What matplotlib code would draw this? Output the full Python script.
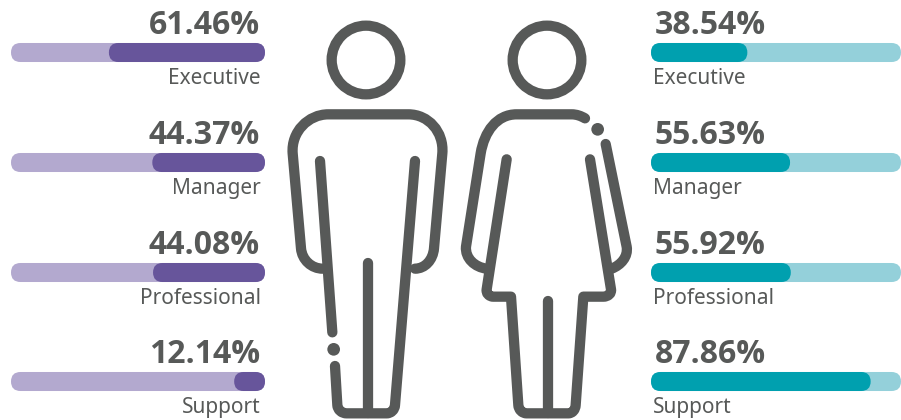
import matplotlib
matplotlib.use("Agg")
import matplotlib.pyplot as plt
from matplotlib.patches import FancyBboxPatch, PathPatch, Circle
from matplotlib.path import Path

categories = ["Executive", "Manager", "Professional", "Support"]
male_pct = [61.46, 44.37, 44.08, 12.14]
female_pct = [38.54, 55.63, 55.92, 87.86]

DARK = "#575958"
PURPLE = "#67559B"
PURPLE_L = "#B3A9CF"
TEAL = "#00A0AF"
TEAL_L = "#94D0DA"
FONT = "Noto Sans"
BOLD_FONT = "Open Sans"

fig = plt.figure(figsize=(9.01, 4.20), dpi=100)
ax = fig.add_axes([0, 0, 1, 1])
ax.set_xlim(0, 901)
ax.set_ylim(420, 0)
ax.axis("off")

ROW_TOP = [43, 153, 263, 372]
BAR_H = 19
L_X0, L_X1 = 11, 265
R_X0, R_X1 = 651, 901


def bar(x0, x1, y, color, z):
    r = BAR_H / 2
    p = FancyBboxPatch((x0 + r, y + r - 0.01), max(x1 - x0 - 2 * r, 0.01), 0.02,
                       boxstyle=f"round,pad={r},rounding_size={r}", lw=0, fc=color, zorder=z)
    ax.add_patch(p)


for i, cat in enumerate(categories):
    y = ROW_TOP[i]
    bar(L_X0, L_X1, y, PURPLE_L, 2)
    bar(L_X1 - male_pct[i] / 100 * (L_X1 - L_X0), L_X1, y, PURPLE, 3)
    ax.text(260, y - 9, f"{male_pct[i]:.2f}%", ha="right", va="baseline", fontsize=23,
            family=BOLD_FONT, fontweight="bold", color=DARK)
    ax.text(261, y + 41, cat, ha="right", va="baseline", fontsize=15, color=DARK, family=FONT)
    bar(R_X0, R_X1, y, TEAL_L, 2)
    bar(R_X0, R_X0 + female_pct[i] / 100 * (R_X1 - R_X0), y, TEAL, 3)
    ax.text(655, y - 9, f"{female_pct[i]:.2f}%", ha="left", va="baseline", fontsize=23,
            family=BOLD_FONT, fontweight="bold", color=DARK)
    ax.text(653, y + 41, cat, ha="left", va="baseline", fontsize=15, color=DARK, family=FONT)

LW = 7.4
M = Path.MOVETO; L = Path.LINETO; C = Path.CURVE4


def stroke(ox, items):
    verts, codes = [], []
    for code, pt in items:
        verts.append((ox + pt[0] / 3, pt[1] / 3))
        codes.append(code)
    ax.add_patch(PathPatch(Path(verts, codes), fc="none", ec=DARK, lw=LW,
                           capstyle="round", joinstyle="round", zorder=4))


def dot(ox, x, y, r):
    ax.add_patch(Circle((ox + x / 3, y / 3), r / 3, fc=DARK, ec="none", zorder=4))


def head(ox, x):
    ax.add_patch(Circle((ox + x / 3, 60), 103 / 3, fc="none", ec=DARK, lw=LW, zorder=4))


OX = 280
head(OX, 258)
stroke(OX, [(M, (128, 806)), (C, (95, 806)), (C, (66, 780)), (C, (63, 745)), (L, (38, 460)),
            (C, (33, 395)), (C, (85, 343)), (C, (145, 343)), (L, (385, 343)),
            (C, (445, 343)), (C, (492, 395)), (C, (487, 460)), (L, (462, 745)),
            (C, (459, 780)), (C, (435, 806)), (C, (405, 806))])
stroke(OX, [(M, (120, 483)), (L, (157, 997))])
dot(OX, 161, 1048, 19)
stroke(OX, [(M, (165, 1098)), (L, (172, 1215)), (C, (173, 1230)), (C, (185, 1240)), (C, (200, 1240)),
            (L, (320, 1240)), (C, (333, 1240)), (C, (344, 1230)), (C, (345, 1215)), (L, (405, 483))])
stroke(OX, [(M, (263, 788)), (L, (263, 1240))])

OX = 455
head(OX, 276)
stroke(OX, [(M, (390, 355)), (C, (378, 348)), (C, (365, 343)), (C, (350, 343)), (L, (185, 343)),
            (C, (125, 343)), (C, (88, 395)), (C, (77, 460)), (L, (33, 740)),
            (C, (30, 775)), (C, (60, 802)), (C, (95, 806))])
stroke(OX, [(M, (452, 432)), (L, (515, 740)), (C, (520, 770)), (C, (498, 795)), (C, (470, 806))])
dot(OX, 428, 388, 19)
stroke(OX, [(M, (155, 478)), (L, (95, 868)), (C, (93, 880)), (C, (102, 890)), (C, (115, 890)),
            (L, (168, 890)), (L, (190, 1215)), (C, (191, 1230)), (C, (202, 1240)), (C, (215, 1240)),
            (L, (340, 1240)), (C, (352, 1240)), (C, (361, 1230)), (C, (362, 1215)),
            (L, (385, 890)), (L, (445, 890)), (C, (460, 890)), (C, (470, 880)), (C, (468, 868)),
            (L, (405, 478))])
stroke(OX, [(M, (280, 903)), (L, (280, 1240))])

fig.savefig("out.png", dpi=100, facecolor="white")
